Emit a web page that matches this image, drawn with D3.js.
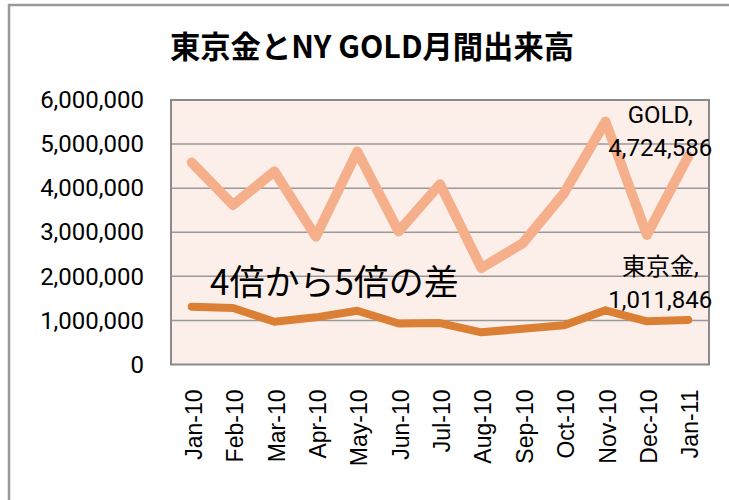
<!DOCTYPE html>
<html>
<head>
<meta charset="utf-8">
<script src="https://cdn.jsdelivr.net/npm/d3@7"></script>
<style>
  body { margin: 0; background: #fff; }
  svg text { font-family: Roboto, "Liberation Sans", sans-serif; fill: #000; }
</style>
</head>
<body>
<svg width="729" height="500"></svg>
<script>
const months = ['Jan-10', 'Feb-10', 'Mar-10', 'Apr-10', 'May-10', 'Jun-10', 'Jul-10',
  'Aug-10', 'Sep-10', 'Oct-10', 'Nov-10', 'Dec-10', 'Jan-11'];
const goldVol = [4580000, 3620000, 4380000, 2900000, 4830000, 3020000, 4090000,
  2190000, 2750000, 3890000, 5510000, 2940000, 4724586];
const tokyoVol = [1310000, 1280000, 970000, 1070000, 1220000, 930000, 940000,
  730000, 810000, 890000, 1230000, 980000, 1011846];
const yTicks = [0, 1000000, 2000000, 3000000, 4000000, 5000000, 6000000];

const svg = d3.select('svg');
const plot = { left: 171, right: 709, top: 100, bottom: 364.5 };

const x = d3.scaleBand().domain(months).range([plot.left, plot.right]);
const y = d3.scaleLinear().domain([0, 6000000]).range([plot.bottom, plot.top]);
const fmt = d3.format(',');

// outer chart frame (only top and left visible)
svg.append('path')
  .attr('d', 'M9,500 V5 H729')
  .attr('fill', 'none')
  .attr('stroke', '#9a9a9a')
  .attr('stroke-width', 2.5);

svg.append('text')
  .attr('x', 372).attr('y', 58)
  .attr('text-anchor', 'middle')
  .style('font-family', '"Noto Sans CJK JP", sans-serif')
  .style('font-weight', 'bold')
  .style('font-size', '31px')
  .attr('textLength', 404)
  .attr('lengthAdjust', 'spacingAndGlyphs')
  .text('東京金とNY GOLD月間出来高');

svg.append('rect')
  .attr('x', plot.left).attr('y', plot.top)
  .attr('width', plot.right - plot.left).attr('height', plot.bottom - plot.top)
  .attr('fill', '#fcefea');

svg.append('g')
  .selectAll('line')
  .data(yTicks.slice(1))
  .join('line')
  .attr('x1', plot.left).attr('x2', plot.right)
  .attr('y1', d => y(d)).attr('y2', d => y(d))
  .attr('stroke', '#999')
  .attr('stroke-width', 1.5);

svg.append('rect')
  .attr('x', plot.left).attr('y', plot.top)
  .attr('width', plot.right - plot.left).attr('height', plot.bottom - plot.top)
  .attr('fill', 'none')
  .attr('stroke', '#8a8a8a')
  .attr('stroke-width', 2);

const yAxis = svg.append('g')
  .attr('transform', `translate(${plot.left},0)`)
  .call(d3.axisLeft(y).tickValues(yTicks).tickFormat(fmt).tickSize(0).tickPadding(27));
yAxis.select('.domain').remove();
yAxis.selectAll('text')
  .style('font-size', '24px')
  .style('font-family', 'Roboto, sans-serif');

const xAxis = svg.append('g')
  .attr('transform', `translate(0,${plot.bottom})`)
  .call(d3.axisBottom(x).tickSize(0));
xAxis.select('.domain').remove();
xAxis.selectAll('text')
  .style('font-size', '23px')
  .style('font-family', '"Liberation Sans", Arial, sans-serif')
  .attr('text-anchor', 'end')
  .attr('dy', '0.35em')
  .attr('y', 0)
  .attr('transform', 'translate(2,25) rotate(-90)');

const line = d3.line()
  .x((d, i) => x(months[i]) + x.bandwidth() / 2)
  .y(d => y(d));

svg.append('path')
  .datum(goldVol)
  .attr('d', line)
  .attr('fill', 'none')
  .attr('stroke', '#f5b08b')
  .attr('stroke-width', 10)
  .attr('stroke-linejoin', 'round')
  .attr('stroke-linecap', 'round');

svg.append('path')
  .datum(tokyoVol)
  .attr('d', line)
  .attr('fill', 'none')
  .attr('stroke', '#db7f35')
  .attr('stroke-width', 8)
  .attr('stroke-linejoin', 'round')
  .attr('stroke-linecap', 'round');

// data labels on last point
const lastX = x(months[months.length - 1]) + x.bandwidth() / 2;
const labels = [
  { lines: ['GOLD,', fmt(goldVol[goldVol.length - 1])], y0: 123 },
  { lines: ['東京金,', fmt(tokyoVol[tokyoVol.length - 1])], y0: 275 },
];
labels.forEach((l) => {
  svg.append('g').selectAll('text')
    .data(l.lines)
    .join('text')
    .attr('x', lastX - 28)
    .attr('y', (d, i) => l.y0 + i * 33)
    .attr('text-anchor', 'middle')
    .style('font-size', '24px')
    .style('font-family', 'Roboto, "Noto Sans CJK JP", sans-serif')
    .text(d => d);
});

svg.append('text')
  .attr('x', 210).attr('y', 295)
  .style('font-size', '35px')
  .style('font-family', '"Noto Sans CJK JP", sans-serif')
  .text('4倍から5倍の差');
</script>
</body>
</html>
